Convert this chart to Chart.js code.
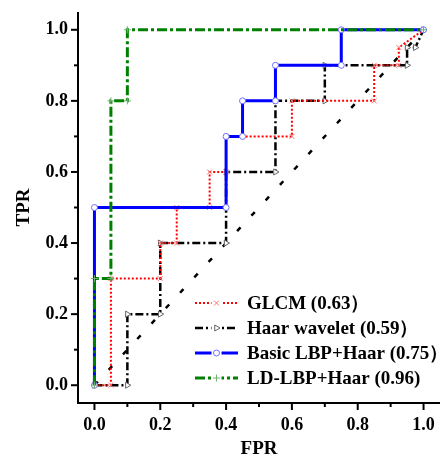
<!DOCTYPE html>
<html><head><meta charset="utf-8">
<script src="https://cdn.jsdelivr.net/npm/chart.js@4/dist/chart.umd.min.js"></script>
<style>html,body{margin:0;padding:0;background:#fff;}#wrap{width:447px;height:459px;}</style>
</head><body><div id="wrap"><canvas id="c" width="447" height="459"></canvas></div>
<script>
// ---- data ----
const seriesNames = ["GLCM (0.63\uFF09", "Haar wavelet (0.59\uFF09", "Basic LBP+Haar (0.75\uFF09", "LD-LBP+Haar (0.96)"];
const glcmFPR  = [0, 0.05, 0.05, 0.2, 0.2, 0.25, 0.25, 0.35, 0.35, 0.4, 0.4, 0.6, 0.6, 0.85, 0.85, 0.925, 0.925, 1];
const glcmTPR  = [0, 0,    0.3,  0.3, 0.4, 0.4,  0.5,  0.5,  0.6,  0.6, 0.7, 0.7, 0.8, 0.8,  0.9,  0.9,   0.95,  1];
const haarFPR  = [0, 0.1, 0.1, 0.2, 0.2, 0.4, 0.4, 0.55, 0.55, 0.7, 0.7, 0.95, 0.95, 0.975, 1];
const haarTPR  = [0, 0,   0.2, 0.2, 0.4, 0.4, 0.6, 0.6,  0.8,  0.8, 0.9, 0.9,  0.95, 0.95,  1];
const basicFPR = [0, 0,   0.4, 0.4, 0.45, 0.45, 0.55, 0.55, 0.75, 0.75, 1];
const basicTPR = [0, 0.5, 0.5, 0.7, 0.7,  0.8,  0.8,  0.9,  0.9,  1,    1];
const ldFPR    = [0, 0,   0.05, 0.05, 0.1, 0.1, 1];
const ldTPR    = [0, 0.3, 0.3,  0.8,  0.8, 1,   1];
const chanceFPR = [0, 1];
const chanceTPR = [0, 1];
const axisTickValues = [0, 0.1, 0.2, 0.3, 0.4, 0.5, 0.6, 0.7, 0.8, 0.9, 1.0];
const axisTickLabels = ["0.0", "", "0.2", "", "0.4", "", "0.6", "", "0.8", "", "1.0"];
const xTitle = "FPR";
const yTitle = "TPR";

const pts = (xs, ys) => xs.map((x, i) => ({x: x, y: ys[i]}));
const SERIF = '"Liberation Serif", "Times New Roman", serif';

const styles = [
  {color: '#ff0000', width: 2, dash: [2, 2], pStyle: 'crossRot', pColor: '#ff7070', pFill: '#ffffff', pRadius: 3.5, pRot: 0},
  {color: '#000000', width: 2.5, dash: [8, 3, 2, 3], pStyle: 'triangle', pColor: '#666666', pFill: '#ffffff', pRadius: 3.5, pRot: 90},
  {color: '#0000ff', width: 3, dash: [], pStyle: 'circle', pColor: '#7070ff', pFill: '#ffffff', pRadius: 3, pRot: 0},
  {color: '#008000', width: 3, dash: [10, 3, 3, 3], pStyle: 'cross', pColor: '#70b070', pFill: '#ffffff', pRadius: 3.5, pRot: 0}
];
const seriesData = [pts(glcmFPR, glcmTPR), pts(haarFPR, haarTPR), pts(basicFPR, basicTPR), pts(ldFPR, ldTPR)];
const drawOrder = [3, 4, 2, 1];

const datasets = seriesData.map((d, i) => ({
  label: seriesNames[i], data: d, showLine: true, fill: false,
  borderColor: styles[i].color, borderWidth: styles[i].width, borderDash: styles[i].dash,
  pointStyle: styles[i].pStyle, pointRadius: styles[i].pRadius, pointBorderColor: styles[i].pColor,
  pointBackgroundColor: styles[i].pFill, pointBorderWidth: 1, pointRotation: styles[i].pRot,
  order: drawOrder[i], tension: 0
}));
datasets.push({
  label: 'chance', data: pts(chanceFPR, chanceTPR), showLine: true, fill: false,
  borderColor: '#000', borderWidth: 2.5, borderDash: [5, 16], pointRadius: 0, order: 5
});

const axesPlugin = {
  id: 'axesPlugin',
  afterDraw(chart) {
    const ctx = chart.ctx, xs = chart.scales.x, ys = chart.scales.y, ca = chart.chartArea;
    ctx.save();
    ctx.strokeStyle = '#000'; ctx.lineWidth = 2; ctx.setLineDash([]);
    ctx.beginPath();
    ctx.moveTo(ca.left, ca.top); ctx.lineTo(ca.left, ca.bottom); ctx.lineTo(ca.right, ca.bottom);
    ctx.stroke();
    axisTickValues.forEach((v, i) => {
      const len = axisTickLabels[i] ? 7 : 4;
      const px = xs.getPixelForValue(v);
      ctx.beginPath(); ctx.moveTo(px, ca.bottom); ctx.lineTo(px, ca.bottom + len); ctx.stroke();
      const py = ys.getPixelForValue(v);
      ctx.beginPath(); ctx.moveTo(ca.left, py); ctx.lineTo(ca.left - len, py); ctx.stroke();
    });
    // legend
    const lx0 = 195, lx1 = 238, tx = 247, y0 = 303, dy = 25;
    ctx.font = 'bold 19px ' + SERIF;
    ctx.textBaseline = 'middle'; ctx.textAlign = 'left';
    styles.forEach((s, i) => {
      const y = y0 + i * dy;
      ctx.strokeStyle = s.color; ctx.lineWidth = s.width; ctx.setLineDash(s.dash);
      ctx.beginPath(); ctx.moveTo(lx0, y); ctx.lineTo(lx1, y); ctx.stroke();
      ctx.setLineDash([]);
      const mx = (lx0 + lx1) / 2;
      ctx.fillStyle = '#fff'; ctx.fillRect(mx - 5, y - 4, 10, 8);
      ctx.strokeStyle = s.pColor; ctx.lineWidth = 1; ctx.fillStyle = s.pFill;
      Chart.helpers.drawPoint(ctx, {pointStyle: s.pStyle, radius: s.pRadius, rotation: s.pRot, borderWidth: 1}, mx, y);
      ctx.fillStyle = '#000';
      ctx.fillText(seriesNames[i], tx, y + 1);
    });
    ctx.restore();
  }
};

const tickFont = {family: SERIF, size: 18, weight: 'bold'};
const titleFont = {family: SERIF, size: 19, weight: 'bold', lineHeight: 1};

new Chart(document.getElementById('c'), {
  type: 'scatter',
  data: {datasets: datasets},
  options: {
    responsive: false, animation: false, devicePixelRatio: 1,
    layout: {padding: {left: 0, top: 12, right: 7, bottom: 0}},
    plugins: {legend: {display: false}, tooltip: {enabled: false}},
    scales: {
      x: {
        type: 'linear', min: -0.05, max: 1.05,
        afterBuildTicks: s => { s.ticks = axisTickValues.map(v => ({value: v})); },
        afterFit: s => { s.height = 56; s.paddingLeft = 0; s.paddingRight = 0; },
        grid: {display: false, drawTicks: false}, border: {display: false},
        ticks: {padding: 12, color: '#000', font: tickFont, maxRotation: 0, autoSkip: false,
                callback: (v, i) => axisTickLabels[i]},
        title: {display: true, text: xTitle, color: '#000', font: titleFont, padding: {top: 0, bottom: 0}}
      },
      y: {
        type: 'linear', min: -0.05, max: 1.05,
        afterBuildTicks: s => { s.ticks = axisTickValues.map(v => ({value: v})); },
        afterFit: s => { s.width = 78; s.paddingTop = 0; s.paddingBottom = 0; },
        grid: {display: false, drawTicks: false}, border: {display: false},
        ticks: {padding: 10, color: '#000', font: tickFont, autoSkip: false,
                callback: (v, i) => axisTickLabels[i]},
        title: {display: true, text: yTitle, color: '#000', font: titleFont, padding: {top: 15, bottom: 0}}
      }
    }
  },
  plugins: [axesPlugin]
});
</script>
</body></html>
